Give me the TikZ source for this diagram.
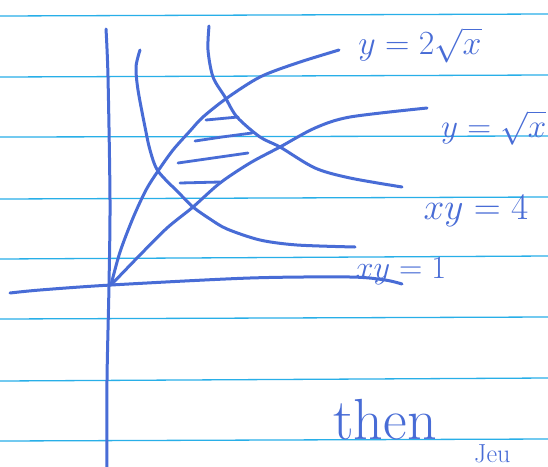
\documentclass[tikz,border=0pt]{standalone}
\usepackage{amsmath}
\usepackage{graphicx}
\definecolor{inkblue}{RGB}{72,108,214}
\definecolor{ruleblue}{RGB}{40,175,232}
\newcommand{\bigmath}[2]{\scalebox{#1}{\Huge $#2$}}
\begin{document}
\begin{tikzpicture}[x=1pt,y=-1pt,
  ink/.style={draw=inkblue, line width=3pt, line cap=round, line join=round},
  hatch/.style={draw=inkblue, line width=2.8pt, line cap=round},
  rule/.style={draw=ruleblue, line width=1.3pt},
  lbl/.style={text=inkblue, inner sep=0pt}]
\useasboundingbox (0,0) rectangle (548,466);
\fill[white] (0,0) rectangle (548,466);
% ruled paper lines
\foreach \a/\b in {16/14, 77/75, 137/136, 199/197, 259/256, 319/317, 381/378, 441/439}
  \draw[rule] (0,\a) -- (548,\b);
% axes
\draw[ink] plot[smooth] coordinates {(106,29) (108,77) (110,200) (109,285) (107,380) (107,470)};
\draw[ink] plot[smooth] coordinates {(10,293) (40,290) (111,285) (250,278) (350,277) (385,280) (402,284)};
% xy = 1
\draw[ink] plot[smooth] coordinates {(140,50) (136,67) (138,90) (145,127) (150,150) (158,171) (179,193) (193,207) (210,219) (227,229) (260,240) (297,245) (355,247)};
% xy = 4
\draw[ink] plot[smooth] coordinates {(209,26) (208,50) (213,77) (225,97) (237,117) (260,137) (280,147) (315,168) (350,178) (402,187)};
% y = 2 sqrt x
\draw[ink] plot[smooth] coordinates {(111,285) (120,252) (133,218) (146,190) (158,171) (173,150) (190,131) (203,117) (227,98) (260,77) (297,63) (339,50)};
% y = sqrt x
\draw[ink] plot[smooth] coordinates {(111,285) (139,256) (167,228) (193,207) (220,183) (250,163) (280,147) (315,128) (350,117) (427,108)};
% hatching
\draw[hatch] (206,120) -- (238,117);
\draw[hatch] (195,141) -- (222,137) -- (252,133);
\draw[hatch] (178,163) -- (248,153);
\draw[hatch] (180,183) -- (220,182);
% labels
\node[lbl] (l1) at (420,45) {\bigmath{1.36}{y = 2\sqrt{x}}};
\node[lbl, anchor=west] (l2) at (441,128) {\bigmath{1.33}{y = \sqrt{x}}};
\node[lbl] (l3) at (476,211) {\bigmath{1.5}{xy=4}};
\node[lbl] (l4) at (401,271) {\bigmath{1.3}{xy=1}};
\node[lbl, font=\fontsize{58}{62}\selectfont] (l5) at (385,420) {then};
\node[lbl, anchor=base west] (l6) at (474,462) {\scalebox{1.05}{\Huge Jeu}};
\end{tikzpicture}
\end{document}
